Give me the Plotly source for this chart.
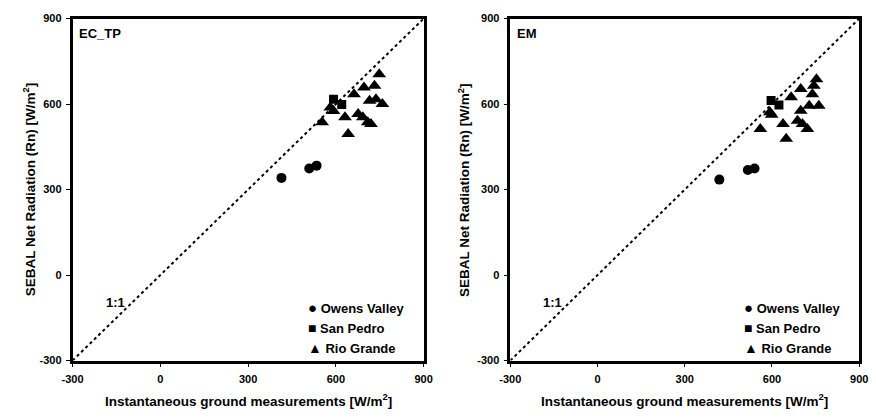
import plotly.graph_objects as go

# ---------------- data ----------------
panels = ["EC_TP", "EM"]

owens_x_ectp = [414, 509, 534]
owens_y_ectp = [341, 374, 384]
sanpedro_x_ectp = [592, 620]
sanpedro_y_ectp = [617, 599]
rio_x_ectp = [748, 696, 732, 662, 715, 737, 759, 581, 592, 631, 553, 676, 692, 709, 720, 642]
rio_y_ectp = [705, 658, 664, 635, 612, 617, 600, 588, 576, 554, 536, 565, 554, 536, 530, 495]

owens_x_em = [419, 517, 540]
owens_y_em = [335, 369, 374]
sanpedro_x_em = [597, 624]
sanpedro_y_em = [613, 597]
rio_x_em = [753, 699, 744, 739, 666, 728, 761, 699, 593, 599, 638, 560, 688, 705, 722, 649]
rio_y_em = [687, 653, 664, 635, 624, 594, 594, 577, 571, 563, 530, 513, 542, 530, 513, 478]

one_to_one = [-300, 900]
tick_vals = [-300, 0, 300, 600, 900]
tick_text = ["-300", "0", "300", "600", "900"]
legend_names = ["Owens Valley", "San Pedro", "Rio Grande"]
legend_glyphs = ["\u25CF", "\u25A0", "\u25B2"]

x_title = "Instantaneous ground measurements [W/m<sup>2</sup>]"
y_title = "SEBAL Net Radiation (Rn) [W/m<sup>2</sup>]"

# ---------------- figure ----------------
W, H = 876, 419
FONT = "Liberation Sans, Arial, sans-serif"
PLOT_TOP, PLOT_BOT = 13, 365
xpix = [(63, 422.3), (511, 868)]

fig = go.Figure()

data_sets = [
    (owens_x_ectp, owens_y_ectp, sanpedro_x_ectp, sanpedro_y_ectp, rio_x_ectp, rio_y_ectp),
    (owens_x_em, owens_y_em, sanpedro_x_em, sanpedro_y_em, rio_x_em, rio_y_em),
]

ydomain = [(H - PLOT_BOT) / H, (H - PLOT_TOP) / H]

for i, (ox, oy, sx, sy, rx, ry) in enumerate(data_sets):
    xa = "x" if i == 0 else "x2"
    ya = "y" if i == 0 else "y2"
    fig.add_trace(go.Scatter(x=one_to_one, y=one_to_one, mode="lines",
                             line=dict(color="black", width=2, dash="dot"),
                             xaxis=xa, yaxis=ya, showlegend=False, hoverinfo="skip"))
    fig.add_trace(go.Scatter(x=ox, y=oy, mode="markers", name=legend_names[0],
                             marker=dict(symbol="circle", size=10, color="black"),
                             xaxis=xa, yaxis=ya, showlegend=False))
    fig.add_trace(go.Scatter(x=sx, y=sy, mode="markers", name=legend_names[1],
                             marker=dict(symbol="square", size=9, color="black"),
                             xaxis=xa, yaxis=ya, showlegend=False))
    fig.add_trace(go.Scatter(x=rx, y=ry, mode="markers", name=legend_names[2],
                             marker=dict(symbol="triangle-up", size=12, color="black"),
                             xaxis=xa, yaxis=ya, showlegend=False))

axis_common = dict(
    range=[-300, 900], tickvals=tick_vals, ticktext=tick_text,
    showgrid=False, zeroline=False, showline=True, linecolor="black", linewidth=2.5,
    mirror=True, ticks="outside", ticklen=4, tickcolor="black", tickwidth=1,
    tickfont=dict(family=FONT, size=11, color="black", weight="bold"),
)

fig.update_layout(
    width=W, height=H,
    margin=dict(l=0, r=0, t=0, b=0),
    paper_bgcolor="white", plot_bgcolor="white",
    showlegend=False,
    xaxis=dict(domain=[xpix[0][0] / W, xpix[0][1] / W], anchor="y",
               ticklabelstandoff=3, **axis_common),
    yaxis=dict(domain=ydomain, anchor="x", ticklabelstandoff=2, **axis_common),
    xaxis2=dict(domain=[xpix[1][0] / W, xpix[1][1] / W], anchor="y2",
                ticklabelstandoff=3, **axis_common),
    yaxis2=dict(domain=ydomain, anchor="x2", ticklabelstandoff=2, **axis_common),
)

title_font = dict(family=FONT, size=13.5, color="black", weight="bold")
label_font = dict(family=FONT, size=13, color="black", weight="bold")
glyph_sizes = [15, 14, 14]

annos = []
ytitle_x = [18, 463]
for i, name in enumerate(panels):
    xr = "x domain" if i == 0 else "x2 domain"
    yr = "y domain" if i == 0 else "y2 domain"
    annos.append(dict(text=name, xref=xr, yref=yr, x=0.012, y=0.985,
                      xanchor="left", yanchor="top", showarrow=False, font=label_font))
    annos.append(dict(text="1:1", xref=xr, yref=yr, x=0.089, y=0.17,
                      xanchor="left", yanchor="middle", showarrow=False, font=label_font))
    for j, (g, lab) in enumerate(zip(legend_glyphs, legend_names)):
        txt = '<span style="font-size:%dpx">%s</span> %s' % (glyph_sizes[j], g, lab)
        annos.append(dict(text=txt, xref=xr, yref=yr,
                          x=0.665, y=0.156 - j * 0.0597,
                          xanchor="left", yanchor="middle", showarrow=False, font=label_font))
    # axis titles
    annos.append(dict(text=x_title, xref="paper", yref="paper",
                      x=(xpix[i][0] + xpix[i][1]) / 2 / W, y=(H - 406) / H,
                      xanchor="center", yanchor="middle", showarrow=False, font=title_font))
    annos.append(dict(text=y_title, xref="paper", yref="paper", textangle=-90,
                      x=ytitle_x[i] / W, y=(H - (PLOT_TOP + PLOT_BOT) / 2) / H,
                      xanchor="center", yanchor="middle", showarrow=False, font=title_font))

fig.update_layout(annotations=annos)

fig.write_html("out.html")
